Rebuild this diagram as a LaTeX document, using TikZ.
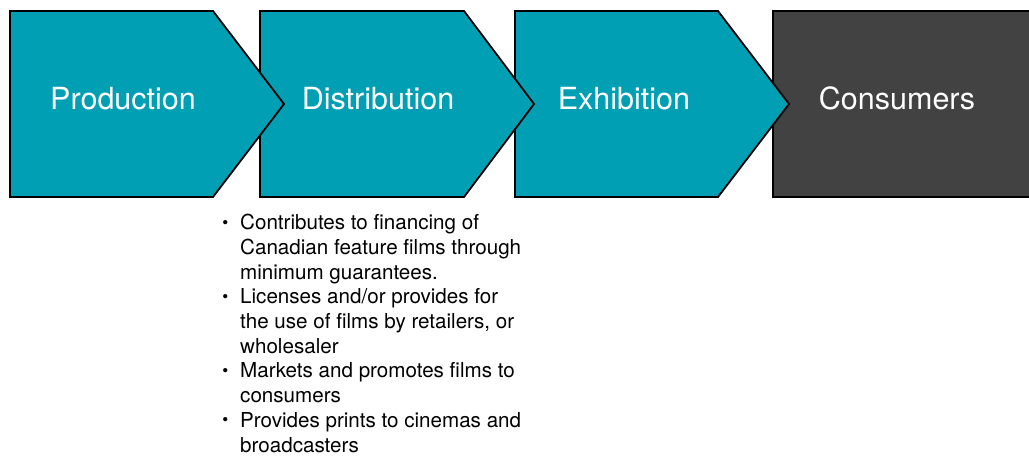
\documentclass[tikz,border=0pt]{standalone}
\usepackage{fontspec}
\setmainfont{TeX Gyre Heros}
\definecolor{stageteal}{RGB}{0,159,180}
\definecolor{stagegrey}{RGB}{66,66,66}
\tikzset{
	stage/.style={draw=black,line width=1.8bp,fill=stageteal,line join=miter},
	stagelabel/.style={text=white,font=\fontsize{30.5bp}{36bp}\selectfont,inner sep=0pt,anchor=base},
	notes/.style={text=black,font=\fontsize{20.6bp}{24.7bp}\selectfont,inner sep=0pt,align=left,anchor=base west},
}
\newcommand{\blt}{\llap{\raisebox{1.5bp}{\fontsize{17bp}{17bp}\selectfont\textbullet}\hspace{12bp}}}
\begin{document}
\begin{tikzpicture}[x=1bp,y=-1bp]
	\useasboundingbox (0,0) rectangle (1029,456);
	% drawn from right to left, so every tip lies over the next box
	\draw[stage,fill=stagegrey] (773,11) -- (1040,11) -- (1040,197) -- (773,197) -- cycle;
	\draw[stage] (515,11) -- (718,11) -- (789,104) -- (718,197) -- (515,197) -- cycle;
	\draw[stage] (260,11) -- (464,11) -- (534,104) -- (464,197) -- (260,197) -- cycle;
	\draw[stage] (10,11) -- (213,11) -- (284,104) -- (213,197) -- (10,197) -- cycle;
	\node[stagelabel] (prod) at (123,110) {Production};
	\node[stagelabel] (dist) at (378,110) {Distribution};
	\node[stagelabel] (exhib) at (624,110) {Exhibition};
	\node[stagelabel] (cons) at (897,110) {Consumers};
	% what distribution does (base = last line)
	\node[notes] (distnotes) at (240,452) {\blt Contributes to financing of\\
		Canadian feature films through\\
		minimum guarantees.\\
		\blt Licenses and/or provides for\\
		the use of films by retailers, or\\
		wholesaler\\
		\blt Markets and promotes films to\\
		consumers\\
		\blt Provides prints to cinemas and\\
		broadcasters};
\end{tikzpicture}
\end{document}
